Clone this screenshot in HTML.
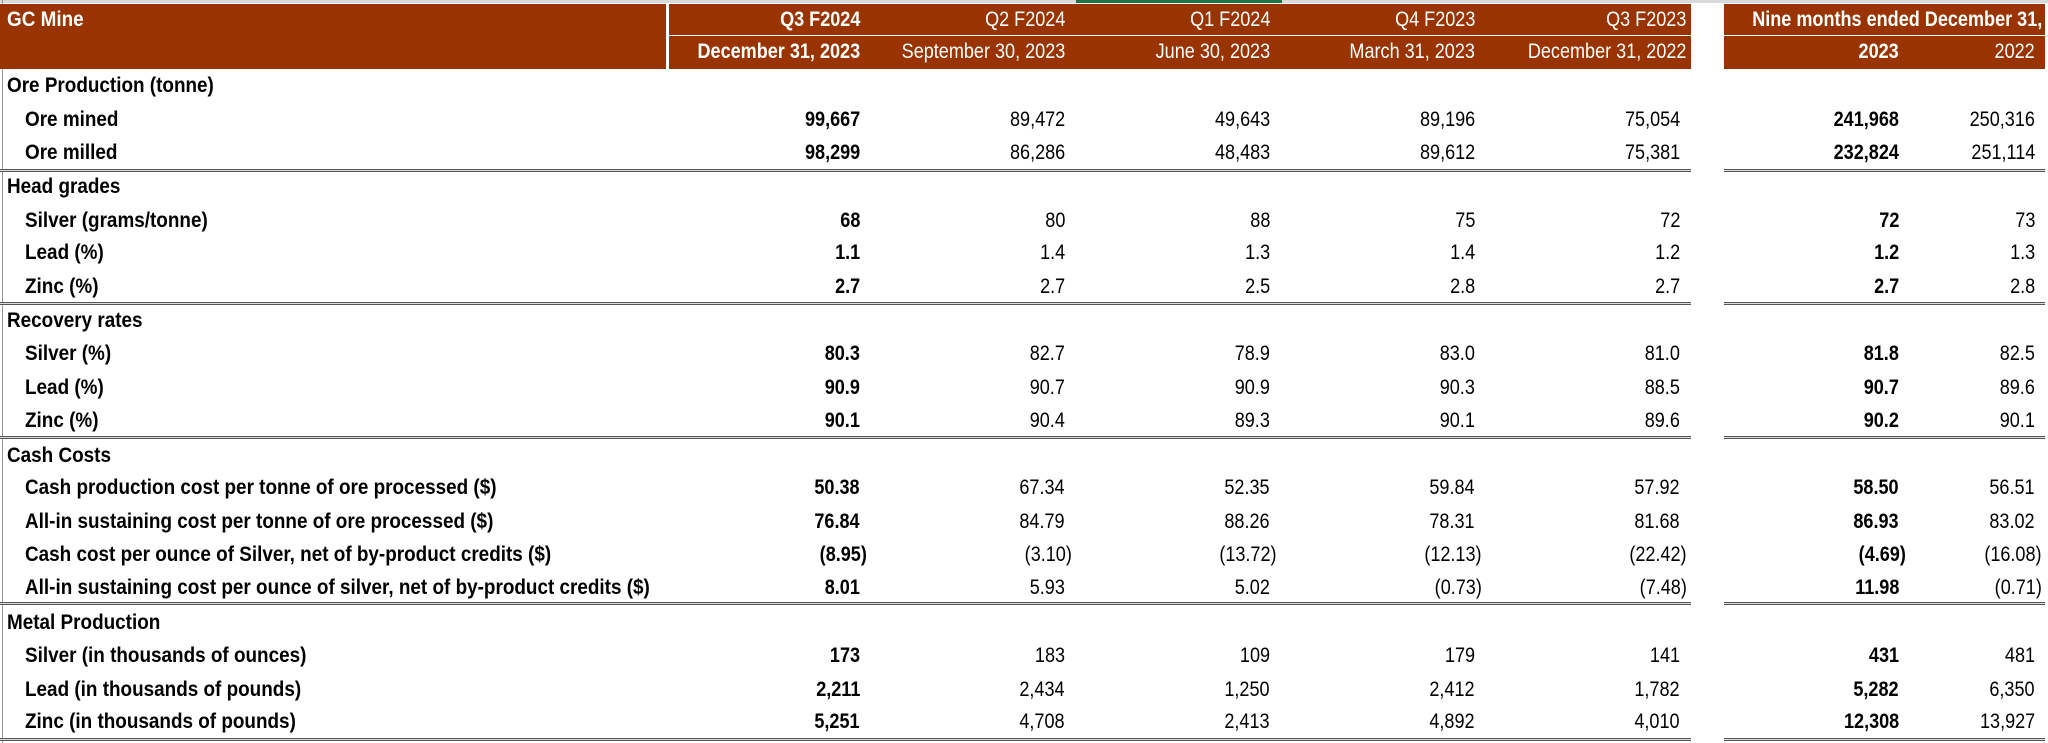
<!DOCTYPE html>
<html><head><meta charset="utf-8"><style>
body{margin:0;width:2048px;height:743px;background:#fff;position:relative;overflow:hidden;font-family:"Liberation Sans",sans-serif;font-size:21px;color:#000}
.b{position:absolute;background:#993300}
.l{position:absolute;height:26px;line-height:26px;white-space:nowrap}
.l span{display:inline-block;transform:scaleX(.9);transform-origin:left center}
.r{position:absolute;height:26px;line-height:26px;white-space:nowrap;text-align:right}
.r span{display:inline-block;transform:scaleX(.86);transform-origin:right center}
.w{color:#fff}
.bd{font-weight:bold}
.hl{position:absolute;height:1px;background:#fff}
.sep{position:absolute;height:3px;border-top:1px solid #555;border-bottom:1px solid #555;box-sizing:border-box;background:#ddd}
</style></head><body>
<div style="position:absolute;left:0;top:0;width:2048px;height:3px;background:#d9d9d9"></div>
<div style="position:absolute;left:1076px;top:0;width:206px;height:3px;background:#217346"></div>
<div style="position:absolute;left:2px;top:0;width:1px;height:743px;background:#999"></div>
<div class="b" style="left:0;top:4px;width:666px;height:65px"></div>
<div class="b" style="left:669px;top:4px;width:1022px;height:65px"></div>
<div class="b" style="left:1724px;top:4px;width:321px;height:65px"></div>
<div class="hl" style="left:669px;top:35px;width:1022px"></div>
<div class="hl" style="left:1724px;top:35px;width:321px"></div>
<div class="l w bd" style="left:7px;top:7px"><span>GC Mine</span></div>

<div class="r w bd" style="right:1188px;top:7px"><span>Q3 F2024</span></div>
<div class="r w" style="right:983px;top:7px"><span>Q2 F2024</span></div>
<div class="r w" style="right:778px;top:7px"><span>Q1 F2024</span></div>
<div class="r w" style="right:573px;top:7px"><span>Q4 F2023</span></div>
<div class="r w" style="right:362px;top:7px"><span>Q3 F2023</span></div>
<div class="r w bd" style="right:6px;top:7px"><span>Nine months ended December 31,</span></div>

<div class="r w bd" style="right:1188px;top:39px"><span>December 31, 2023</span></div>
<div class="r w" style="right:983px;top:39px"><span>September 30, 2023</span></div>
<div class="r w" style="right:778px;top:39px"><span>June 30, 2023</span></div>
<div class="r w" style="right:573px;top:39px"><span>March 31, 2023</span></div>
<div class="r w" style="right:362px;top:39px"><span>December 31, 2022</span></div>
<div class="r w bd" style="right:149px;top:39px"><span>2023</span></div>
<div class="r w" style="right:13px;top:39px"><span>2022</span></div>

<div id="rows"></div>
<script>
var C=[860,1065,1270,1475,1680,1899,2035];
var rows=[
[86,"Ore Production (tonne)",0],
[120,"Ore mined",["99,667","89,472","49,643","89,196","75,054","241,968","250,316"]],
[153,"Ore milled",["98,299","86,286","48,483","89,612","75,381","232,824","251,114"]],
[187,"Head grades",0],
[221,"Silver (grams/tonne)",["68","80","88","75","72","72","73"]],
[253,"Lead (%)",["1.1","1.4","1.3","1.4","1.2","1.2","1.3"]],
[287,"Zinc (%)",["2.7","2.7","2.5","2.8","2.7","2.7","2.8"]],
[321,"Recovery rates",0],
[354,"Silver (%)",["80.3","82.7","78.9","83.0","81.0","81.8","82.5"]],
[388,"Lead (%)",["90.9","90.7","90.9","90.3","88.5","90.7","89.6"]],
[421,"Zinc (%)",["90.1","90.4","89.3","90.1","89.6","90.2","90.1"]],
[456,"Cash Costs",0],
[488,"Cash production cost per tonne of ore processed ($)",["50.38","67.34","52.35","59.84","57.92","58.50","56.51"]],
[522,"All-in sustaining cost per tonne of ore processed ($)",["76.84","84.79","88.26","78.31","81.68","86.93","83.02"]],
[555,"Cash cost per ounce of Silver, net of by-product credits ($)",["(8.95)","(3.10)","(13.72)","(12.13)","(22.42)","(4.69)","(16.08)"]],
[588,"All-in sustaining cost per ounce of silver, net of by-product credits ($)",["8.01","5.93","5.02","(0.73)","(7.48)","11.98","(0.71)"]],
[623,"Metal Production",0],
[656,"Silver (in thousands of ounces)",["173","183","109","179","141","431","481"]],
[690,"Lead (in thousands of pounds)",["2,211","2,434","1,250","2,412","1,782","5,282","6,350"]],
[722,"Zinc (in thousands of pounds)",["5,251","4,708","2,413","4,892","4,010","12,308","13,927"]]
];
var h="";
rows.forEach(function(r){
 var t=r[0]-13;
 if(!r[2]){h+='<div class="l bd" style="left:7px;top:'+t+'px"><span>'+r[1]+'</span></div>';}
 else{
  h+='<div class="l bd" style="left:25px;top:'+t+'px"><span>'+r[1]+'</span></div>';
  r[2].forEach(function(v,i){
   var x=C[i]+(v.charAt(0)=="("?7:0);
   var b=(i==0||i==5)?" bd":"";
   h+='<div class="r'+b+'" style="right:'+(2048-x)+'px;top:'+t+'px"><span>'+v+'</span></div>';
  });
 }
});
[169,302,436,602,738].forEach(function(y){
 h+='<div class="sep" style="left:0;top:'+y+'px;width:1691px"></div>';
 h+='<div class="sep" style="left:1724px;top:'+y+'px;width:321px"></div>';
});
document.getElementById("rows").innerHTML=h;
</script>
</body></html>
